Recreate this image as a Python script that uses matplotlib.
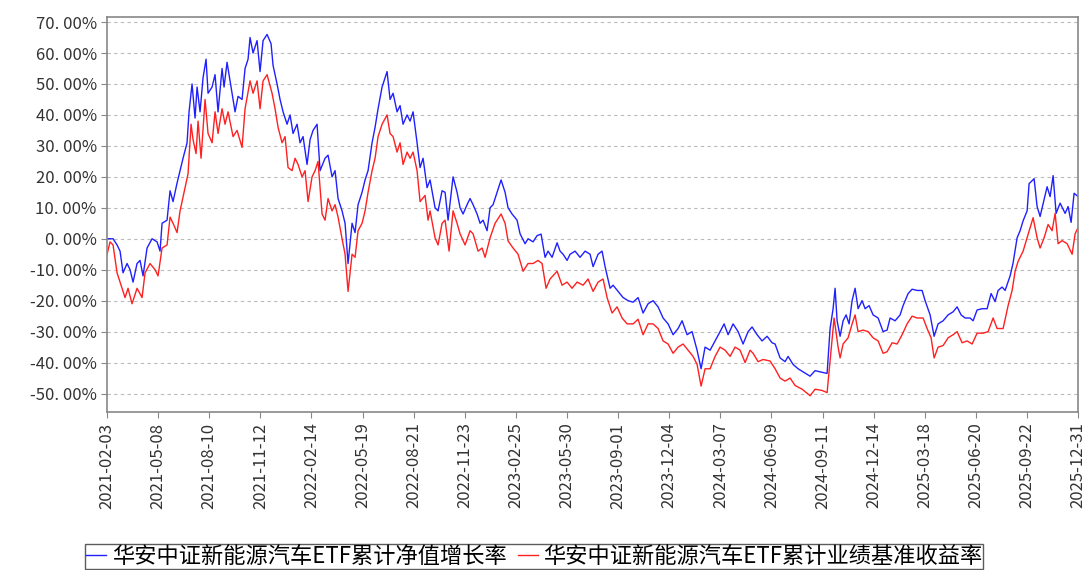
import numpy as np
from matplotlib import pyplot as plt

plt.rcParams['font.family'] = ['Noto Sans CJK SC', 'DejaVu Sans']

# x: position along trading-day axis (0 .. 971), y: cumulative return in %
nav_day = [0, 6, 10, 13, 16, 20, 23, 26, 30, 33, 36, 40, 45, 50, 53, 55, 60, 63, 66, 70, 73, 76, 80, 82, 85, 88, 90,
           93, 96, 99, 101, 105, 108, 111, 115, 117, 120, 123, 128, 131, 135, 138, 141, 143, 146, 150, 153, 156, 160,
           164, 166, 170, 173, 176, 180, 183, 186, 190, 193, 196, 200, 203, 206, 210, 213, 218, 221, 225, 228, 231,
           235, 238, 241, 245, 248, 251, 255, 258, 261, 265, 268, 271, 275, 278, 280, 283, 286, 290, 293, 296, 300,
           303, 306, 310, 313, 316, 320, 323,
           328, 331, 335, 338, 341, 346, 350, 353, 356, 360, 363, 366, 370, 373, 376, 380, 383, 386, 390, 394, 398,
           401, 405, 410, 413, 418, 421, 426, 430, 434, 438, 441, 445, 450, 453, 456, 460, 463, 468, 473, 478, 483,
           486, 491, 495, 498, 503, 506, 511, 516, 521, 526, 531, 536, 541, 546, 551, 556, 561, 566, 571, 575, 580,
           585, 590, 594, 598, 603, 608, 613, 617, 621, 626, 631, 636, 641,
           645, 650, 655, 660, 665, 668, 673, 678, 681, 686, 691, 696, 703, 708, 713, 720, 723, 726, 728, 730, 733,
           736, 739, 742, 745, 748, 751, 755, 758, 762, 766, 771, 776, 780, 783, 788, 793, 796, 801, 805, 810, 815,
           818, 823, 827, 831, 836, 841, 846, 850, 854, 858, 863, 866, 870, 875, 880, 884, 888, 891, 895, 898, 903,
           906, 910, 913, 916, 920, 922, 927, 930, 933, 937, 940, 943, 946, 949, 953, 958, 961, 964, 967, 971]
nav_ret = [0, 0, -2, -4, -11, -8, -10, -14, -8, -7, -12, -3, 0, -1, -4, 5, 6, 15.5, 12, 18, 22, 26, 31, 41, 50, 39, 49,
           41, 52, 58, 47, 49, 53, 41, 55, 49, 57, 51, 41, 46, 45, 55, 58, 65, 60, 64, 54, 64, 66,
           63, 56, 50, 45, 41, 37, 40, 34, 37, 31, 33, 24, 32, 35, 37, 22, 26, 27, 20, 22, 13,
           9, 5, -8, 5, 2, 11, 15, 19, 22, 31, 36, 42, 49, 52, 54, 45, 47, 41, 43, 37, 40,
           38, 41, 31, 23, 26, 16.5, 19,
           10, 9, 15.5, 15, 6, 20, 15, 10, 8, 11, 13, 11, 8, 5, 6, 2.6, 10, 11, 15, 19, 15,
           10, 8, 6, 1.6, -1.6, 0, -1, 1, 1.5, -6, -4, -6, -1.3, -4, -5, -7, -5, -4, -6, -4, -5,
           -9, -5, -4, -9, -16, -15, -17, -19, -20, -20.5, -19, -24, -21, -20, -22, -25.6, -27.5, -31, -29, -26.5, -31,
           -30, -36, -42, -35, -36, -33, -30, -27.5, -31, -27.5, -30, -34, -30,
           -28.5, -31, -33, -31.5, -33.6, -34, -38.5, -39.7, -38, -40.6, -42, -43, -44.4, -42.6, -43, -43.5, -29, -22.6,
           -16, -26.5, -31.5,
           -26.5, -24.6, -27.5, -20, -16, -22.6, -20, -22.6, -21.6, -24.6, -25.6, -30, -29.5, -25.6, -26.5, -24.6,
           -21.6, -17.7, -16.3, -16.7, -16.7,
           -20, -24.6, -31.5, -27.5, -26.5, -24.6, -23.6, -22, -24.6, -25.6, -25.6, -26.5, -23, -22.6, -22.6, -17.7,
           -20.3, -16.7, -15.6, -16.7, -12,
           -7.8, 0.3, 2.6, 5.8, 9, 17.8, 19.4, 10.4, 7.2, 12.6, 16.8, 13.6, 20.4, 8.2, 11.5, 8.2, 10.4, 5.3, 14.7, 13.6]

bench_day = [0, 3, 6, 10, 15, 18, 21, 25, 30, 35, 38, 43, 48, 51, 55, 60, 63, 66, 70, 73, 78, 81, 84, 86, 89, 91, 94,
             98, 101, 105, 108, 111, 115, 118, 121, 126, 130, 135, 138, 143, 146, 150, 153, 156, 160, 165, 168, 171,
             175, 178, 181, 185, 188, 191, 195, 198, 201, 205, 208, 211, 215, 218, 221, 225, 228, 231, 235, 238, 241,
             245, 248, 251, 255, 258, 261, 265, 268, 271, 275, 280, 283, 286, 290, 293, 296, 300, 303, 306, 310, 313,
             318, 321, 323,
             328, 331, 335, 338, 342, 346, 350, 353, 358, 363, 366, 371, 375, 378, 383, 388, 394, 398, 401, 406, 411,
             416, 421, 426, 431, 435, 439, 443, 450, 455, 460, 465, 470, 476, 481, 486, 491, 496, 500, 505, 510, 515,
             520, 526, 531, 536, 541, 546, 551, 556, 561, 566, 571, 576, 581, 586, 590, 594, 598, 603, 608, 613, 618,
             623, 628, 633, 638, 643,
             646, 651, 656, 663, 668, 673, 678, 683, 688, 695, 703, 708, 715, 720, 724, 727, 731, 733, 736, 741, 745,
             748, 751, 756, 761, 766, 771, 776, 780, 785, 790, 795, 800, 805, 810, 816, 820, 824, 827, 831, 836, 841,
             846, 850, 855, 860, 865, 870, 876, 881, 886, 890, 896, 901, 905, 908, 911, 916, 920, 923, 926, 930, 933,
             937, 941, 945, 948, 951, 955, 960, 965, 968, 971]
bench_ret = [-5, -1, -2, -11, -16, -19, -16, -21, -16, -19, -11, -8, -10, -12, -3, -2, 7, 5, 2, 9, 16.5, 21, 37, 32,
             27.5, 38, 26,
             45, 34, 31, 41, 34, 42, 37, 41, 33, 35, 29.5, 42, 51, 47, 51, 42, 51, 53, 47, 42, 36,
             31, 33, 23, 22, 26, 24, 20, 22, 12, 20, 22, 25, 8, 6, 13, 9, 11, 7, 0, -5, -17,
             -5, -6, 2.6, 5, 9, 15, 22, 26, 33, 37, 40, 34, 33, 28, 31, 24, 28, 26, 28, 22, 12,
             14, 6, 9,
             0.3, -2, 5, 6, -4, 9, 5, 1.6, -2, 2.6, 1.6, -4, -3, -6, 0.3, 5, 8, 5, -0.7, -3, -5,
             -10.5, -8, -8, -7, -8, -16, -13, -10.5, -15, -14, -16, -14, -15, -13, -17, -14, -13, -19, -24, -22, -25.6,
             -27.5, -27.5, -26, -31, -27.5, -27.5, -29, -33, -34, -37, -35, -34, -36, -38, -40.6, -47.6, -42, -42, -38,
             -35, -36, -38, -35, -36, -40, -36,
             -37, -39.7, -39, -39.5, -42, -45, -46, -45, -47.4, -48.6, -50.7, -48.6, -49, -49.7, -36, -25.6, -35,
             -38.5, -34, -32, -27.5,
             -24.6, -30, -29.5, -30, -32, -33, -37, -36.5, -33.6, -34, -31, -27.5, -25, -25.6, -25.6, -29, -32, -38.5,
             -35, -34.5, -32,
             -31, -30, -33.6, -33, -34, -30.5, -30.5, -30, -25.6, -29, -29, -21.6, -16.7, -10.5, -7.3, -4, 0.3, 3.6,
             6.8, 0.3, -3,
             0.3, 4.6, 2.6, 8.2, -1.6, -0.6, -1.6, -5, 1.6, 3.6]

date_labels = ["2021-02-03", "2021-05-08", "2021-08-10", "2021-11-12", "2022-02-14", "2022-05-19", "2022-08-21",
               "2022-11-23", "2023-02-25", "2023-05-30", "2023-09-01", "2023-12-04", "2024-03-07", "2024-06-09",
               "2024-09-11", "2024-12-14", "2025-03-18", "2025-06-20", "2025-09-22", "2025-12-31"]
y_ticks = [70, 60, 50, 40, 30, 20, 10, 0, -10, -20, -30, -40, -50]

fig = plt.figure(figsize=(10.89, 5.70), dpi=100)
ax = fig.add_axes([0.0983, 0.277, 0.8917, 0.693])

ax.plot(nav_day, nav_ret, color='#2020ff', lw=1.0, label="华安中证新能源汽车ETF累计净值增长率")
ax.plot(bench_day, bench_ret, color='#ff2020', lw=1.0, label="华安中证新能源汽车ETF累计业绩基准收益率")

ax.set_xlim(0, 971)
ax.set_ylim(-56, 71.6)
ax.set_xticks(np.linspace(0, 971, len(date_labels)))
ax.set_xticklabels(date_labels, rotation=90, fontsize=12, color='#333333')
ax.set_yticks(y_ticks)
ax.set_yticklabels([("%.2f%%" % v).replace(".", ". ") for v in y_ticks], fontsize=12, color='#444444')
ax.yaxis.grid(True, linestyle=(0, (3, 3)), color='#bbbbbb', lw=0.8)
for s in ax.spines.values():
    s.set_color('#888888')
    s.set_linewidth(1.2)
ax.tick_params(colors='#888888', labelcolor='#333333', length=4)

leg = fig.legend(loc='lower left', bbox_to_anchor=(85 / 1089, 0.002), ncol=2, fontsize=16,
                 frameon=True, fancybox=False, handlelength=0.9, handletextpad=0.25,
                 columnspacing=0.5, borderaxespad=0.0, borderpad=0.05)
leg.get_frame().set_edgecolor('#333333')
leg.get_frame().set_linewidth(1.0)

fig.savefig("out.png", dpi=100)
